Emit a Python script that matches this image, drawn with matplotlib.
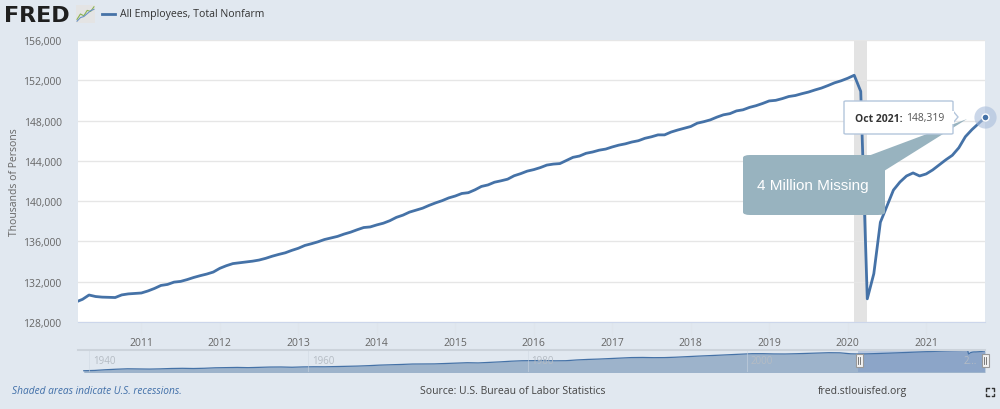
import matplotlib
matplotlib.use("Agg")
import matplotlib.pyplot as plt
from matplotlib.patches import FancyBboxPatch, Polygon, Rectangle
from matplotlib.ticker import FuncFormatter

plt.rcParams['font.family'] = ['Open Sans', 'DejaVu Sans']

# monthly PAYEMS, Mar 2010 .. Oct 2021 (thousands of persons)
start_year, start_month = 2010, 3
payems = [
    # 2010 (Mar-Dec)
    129990, 130250, 130680, 130530, 130470, 130450, 130430, 130690, 130790, 130840,
    # 2011
    130880, 131080, 131330, 131630, 131730, 131960, 132030, 132210, 132420, 132600, 132760, 132960,
    # 2012
    133330, 133590, 133800, 133880, 133950, 134040, 134150, 134320, 134530, 134710, 134870, 135110,
    # 2013
    135320, 135600, 135770, 135960, 136190, 136340, 136500, 136730, 136920, 137160, 137380, 137440,
    # 2014
    137640, 137810, 138060, 138390, 138610, 138910, 139110, 139300, 139580, 139830, 140050, 140320,
    # 2015
    140510, 140760, 140840, 141120, 141460, 141610, 141880, 142020, 142180, 142520, 142730, 142980,
    # 2016
    143130, 143330, 143580, 143680, 143730, 144040, 144350, 144480, 144750, 144880, 145060, 145170,
    # 2017
    145380, 145560, 145690, 145870, 146000, 146240, 146390, 146580, 146580, 146860, 147060, 147230,
    # 2018
    147410, 147740, 147890, 148070, 148340, 148570, 148690, 148960, 149070, 149310, 149480, 149700,
    # 2019
    149950, 150010, 150180, 150390, 150490, 150670, 150830, 151040, 151230, 151480, 151750, 151950,
    # 2020
    152200, 152500, 150900, 130300, 132800, 137900, 139500, 141100, 141900, 142500, 142800, 142500,
    # 2021 (Jan-Oct)
    142700, 143100, 143600, 144100, 144550, 145300, 146400, 147100, 147700, 148319,
]
dates = [start_year + (start_month - 1 + i) / 12 for i in range(len(payems))]

# annual history for the navigator strip, 1939..2009
hist_years = list(range(1939, 2010))
hist_values = [
    30600, 32400, 36500, 39700, 42100, 41500, 40400, 41700, 43900, 44900,
    43800, 45200, 48000, 49000, 50200, 48900, 50600, 52500, 52900, 51300,
    53300, 54200, 54000, 55500, 56600, 58300, 60800, 64000, 65800, 68000,
    70500, 71000, 71300, 73800, 76900, 78300, 77100, 80000, 83300, 87300,
    90000, 90600, 91300, 89700, 90300, 94700, 97900, 100000, 103000, 106200,
    108900, 109600, 108400, 108800, 111000, 114500, 117400, 120100, 123100, 126300,
    129200, 132000, 132100, 130600, 130300, 131800, 134000, 136400, 137900, 137200,
    131300,
]
nav_years = [1940, 1960, 1980, 2000]

recession = (2020 + 1 / 12, 2020 + 3 / 12)
y_ticks = list(range(128000, 156001, 4000))
x_ticks = list(range(2011, 2022))
last_label = "Oct 2021:"
last_value = "148,319"

icon_x = [0, 1, 2, 3, 4, 5]
icon_green = [1, 2.5, 2, 3.5, 3.2, 4.5]
icon_blue = [0.5, 1.5, 1.8, 2.6, 3.4, 3.8]

BG = '#e1e8f0'
BLUE = '#4572a7'
W, H = 1000, 410


def fx(x):
    return x / W


def fy(y):
    return 1 - y / H


fig = plt.figure(figsize=(10, 4.1), dpi=100, facecolor=BG)

# ---- main chart
ax = fig.add_axes([fx(78.3), fy(323), fx(985) - fx(78.3), fy(41) - fy(323)])
ax.set_facecolor('white')
ax.axvspan(recession[0], recession[1], color='#e3e3e3', lw=0, zorder=1)
ax.plot(dates, payems, color=BLUE, lw=2.0, zorder=3, solid_joinstyle='round')
ax.set_xlim(start_year + (start_month - 1) / 12 + 0.03, dates[-1])
ax.set_ylim(y_ticks[0], y_ticks[-1])
ax.set_yticks(y_ticks)
ax.set_xticks(x_ticks)
ax.yaxis.set_major_formatter(FuncFormatter(lambda v, p: f"{int(v):,}"))
ax.grid(axis='y', color='#e6e6e6', lw=1, zorder=0)
for s in ['top', 'right', 'left']:
    ax.spines[s].set_visible(False)
ax.spines['bottom'].set_color('#ccd6eb')
ax.tick_params(axis='y', length=0, labelsize=7.5, labelcolor='#666666', pad=12)
ax.tick_params(axis='x', length=10, width=1, color='#dfe5ec', labelsize=7.5,
               labelcolor='#666666', pad=1)
ax.set_ylabel("Thousands of Persons", fontsize=7.5, color='#666666')
ax.yaxis.set_label_coords(-0.0645, 0.5)

# end point marker
ax.plot([dates[-1]], [payems[-1]], 'o', ms=16, color='#a9bddb', alpha=0.6,
        zorder=4, clip_on=False, mec='none')
ax.plot([dates[-1]], [payems[-1]], 'o', ms=5, color=BLUE, mec='white', mew=1,
        zorder=5, clip_on=False)

# callout "4 Million Missing"
callout_color = '#98b3bf'
wedge = Polygon([(fx(860), fy(160)), (fx(967), fy(120)), (fx(884), fy(172))],
                closed=True, transform=fig.transFigure, fc=callout_color, ec='none',
                zorder=6)
fig.add_artist(wedge)
box = FancyBboxPatch((fx(743), fy(216)), fx(885) - fx(743), fy(156) - fy(216),
                     boxstyle="round,pad=0,rounding_size=0.007",
                     transform=fig.transFigure, fc=callout_color, ec='none', zorder=6)
fig.add_artist(box)
fig.text(fx(813), fy(186), "4 Million Missing", color='white', fontsize=11,
         family=['Liberation Sans', 'DejaVu Sans'], ha='center', va='center', zorder=7)

# tooltip
tip = FancyBboxPatch((fx(844), fy(135)), fx(953) - fx(844), fy(102) - fy(135),
                     boxstyle="round,pad=0,rounding_size=0.002",
                     transform=fig.transFigure, fc='white', ec='#b4c6dc', lw=1, zorder=8)
fig.add_artist(tip)
notch = Polygon([(fx(953), fy(112)), (fx(958), fy(118)), (fx(953), fy(124))],
                closed=True, transform=fig.transFigure, fc='white', ec='#b4c6dc',
                lw=1, zorder=8)
fig.add_artist(notch)
fig.add_artist(Rectangle((fx(951), fy(124.5)), fx(3), fy(112) - fy(124.5),
                         transform=fig.transFigure, fc='white', ec='none', zorder=9))
fig.text(fx(855), fy(119), last_label, fontsize=7.5, weight='bold',
         color='#333333', ha='left', va='center', zorder=10)
fig.text(fx(906), fy(119), last_value, fontsize=7.5, color='#555555',
         ha='left', va='center', zorder=10)

# ---- navigator
nav = fig.add_axes([fx(78.3), fy(372.5), fx(985) - fx(78.3), fy(351) - fy(372.5)])
nav.set_facecolor(BG)
nav_x = [y + 0.5 for y in hist_years] + dates
nav_y = hist_values + payems
nav.fill_between(nav_x, nav_y, 0, color='#9db3cb', lw=0)
nav.plot(nav_x, nav_y, color=BLUE, lw=0.9)
nav.set_xlim(1939.0, dates[-1])
nav.set_ylim(26000, 154000)
nav.axvspan(ax.get_xlim()[0], dates[-1], color='#6685c2', alpha=0.3, lw=0)
for s in ['right', 'left', 'bottom']:
    nav.spines[s].set_visible(False)
nav.spines['top'].set_color('#ccd3db')
nav.spines['top'].set_linewidth(1.5)
nav.set_xticks([])
nav.set_yticks([])
for yr in nav_years:
    nav.axvline(yr, color='#cfd8e2', lw=0.6, alpha=0.6)
    nav.text(yr + 0.35, 0.5, str(yr), transform=nav.get_xaxis_transform(),
             fontsize=7, color='#b5bcc4', va='center', ha='left')
nav.text(2019.8, 0.5, "2...", transform=nav.get_xaxis_transform(),
         fontsize=7, color='#b5bcc4', va='center', ha='left')
for hx in (859, 985):
    fig.add_artist(Rectangle((fx(hx - 3.5), fy(368)), fx(7), fy(355) - fy(368),
                             transform=fig.transFigure, fc='#f2f2f2', ec='#999999',
                             lw=0.8, zorder=10))
    for dx in (-1, 1):
        fig.add_artist(plt.Line2D([fx(hx + dx), fx(hx + dx)], [fy(358), fy(365)],
                                  transform=fig.transFigure, color='#666666',
                                  lw=0.6, zorder=11))

# ---- header
fig.text(fx(4), fy(15.5), "FRED", fontsize=16, weight='heavy', color='#1f1f1f',
         family=['DejaVu Sans'], ha='left', va='center')
icon = fig.add_axes([fx(76), fy(24), fx(19), fy(6) - fy(24)])
icon.set_facecolor('#e4e4e4')
icon.plot(icon_x, icon_green, color='#8cb452', lw=0.8)
icon.plot(icon_x, icon_blue, color='#6a93c6', lw=0.8)
icon.set_xlim(-0.3, 5.3)
icon.set_ylim(0, 5)
icon.set_xticks([])
icon.set_yticks([])
for s in icon.spines.values():
    s.set_visible(False)
fig.add_artist(plt.Line2D([fx(102), fx(115)], [fy(15), fy(15)],
                          transform=fig.transFigure, color=BLUE, lw=2))
fig.text(fx(120), fy(15), "All Employees, Total Nonfarm", fontsize=7.6,
         color='#333333', ha='left', va='center')

# ---- footer
fig.text(fx(12), fy(392), "Shaded areas indicate U.S. recessions.", fontsize=7.3,
         style='italic', color='#3f6ea8', ha='left', va='center')
fig.text(fx(420), fy(392), "Source: U.S. Bureau of Labor Statistics", fontsize=7.5,
         color='#444444', ha='left', va='center')
fig.text(fx(818), fy(392), "fred.stlouisfed.org", fontsize=7.5,
         color='#444444', ha='left', va='center')
# fullscreen icon
for (cx, cy, dx, dy) in [(986, 389, 1, 1), (994, 389, -1, 1), (986, 397, 1, -1), (994, 397, -1, -1)]:
    fig.add_artist(plt.Line2D([fx(cx), fx(cx), fx(cx + 2.5 * dx)],
                              [fy(cy + 2.5 * dy), fy(cy), fy(cy)],
                              transform=fig.transFigure, color='#333333', lw=1))

fig.savefig("out.png", dpi=100, facecolor=BG)
